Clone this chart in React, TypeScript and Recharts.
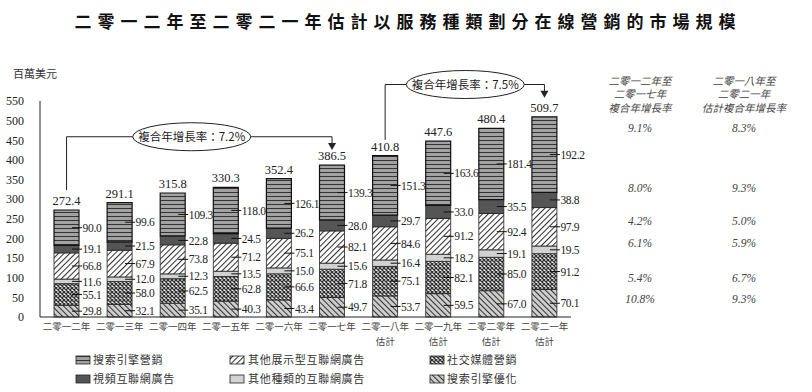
import React from 'react';
import { BarChart, Bar, XAxis, YAxis, LabelList, ReferenceLine, ReferenceDot } from 'recharts';

const categories = ['二零一二年', '二零一三年', '二零一四年', '二零一五年', '二零一六年', '二零一七年', '二零一八年', '二零一九年', '二零二零年', '二零二一年'];
const estimated = [false, false, false, false, false, false, true, true, true, true];
const seo = [29.8, 32.1, 35.1, 40.3, 43.4, 49.7, 53.7, 59.5, 67.0, 70.1];
const social = [55.1, 58.0, 62.5, 62.8, 66.6, 71.8, 75.1, 82.1, 85.0, 91.2];
const otherTypes = [11.6, 12.0, 12.3, 13.5, 15.0, 15.6, 16.4, 18.2, 19.1, 19.5];
const otherDisplay = [66.8, 67.9, 73.8, 71.2, 75.1, 82.1, 84.6, 91.2, 92.4, 97.9];
const video = [19.1, 21.5, 22.8, 24.5, 26.2, 28.0, 29.7, 33.0, 35.5, 38.8];
const sem = [90.0, 99.6, 109.3, 118.0, 126.1, 139.3, 151.3, 163.6, 181.4, 192.2];
const totals = [272.4, 291.1, 315.8, 330.3, 352.4, 386.5, 410.8, 447.6, 480.4, 509.7];
const yTicks = [0, 50, 100, 150, 200, 250, 300, 350, 400, 450, 500, 550];

const seriesNames = ['搜索引擎營銷', '視頻互聯網廣告', '其他展示型互聯網廣告', '其他種類的互聯網廣告', '社交媒體營銷', '搜索引擎優化'];
const cagr1 = ['9.1%', '8.0%', '4.2%', '6.1%', '5.4%', '10.8%'];
const cagr2 = ['8.3%', '9.3%', '5.0%', '5.9%', '6.7%', '9.3%'];
const head1 = ['二零一二年至', '二零一七年', '複合年增長率'];
const head2 = ['二零一八年至', '二零二一年', '估計複合年增長率'];
const title = '二零一二年至二零二一年估計以服務種類劃分在線營銷的市場規模';
const cagrLabels = ['複合年增長率：7.2%', '複合年增長率：7.5%'];

const data = categories.map((c, i) => ({
  name: c,
  seo: seo[i],
  social: social[i],
  otherTypes: otherTypes[i],
  otherDisplay: otherDisplay[i],
  video: video[i],
  sem: sem[i],
  total: totals[i],
}));

const SERIF = '"Liberation Serif", "Noto Sans CJK TC", serif';
const CJK = '"Noto Sans CJK TC", "Liberation Serif", sans-serif';

const SegLabel = (props: any) => {
  const { x, y, width, height, value } = props;
  const cy = Number(y) + Number(height) / 2;
  const r = Number(x) + Number(width);
  return (
    <g>
      <line x1={r - 7} x2={r + 3} y1={cy} y2={cy} stroke="#111" strokeWidth={1} />
      <text x={r + 3.5} y={cy} dy="0.36em" fontSize={11.5} letterSpacing={-0.3} fontFamily={SERIF} fill="#222">
        {Number(value).toFixed(1)}
      </text>
    </g>
  );
};

const TotalLabel = (props: any) => {
  const { x, y, width, value } = props;
  return (
    <text x={Number(x) + Number(width) / 2} y={Number(y) - 5} textAnchor="middle" fontSize={12.5} fontFamily={SERIF} fill="#222">
      {Number(value).toFixed(1)}
    </text>
  );
};

const XTick = (props: any) => {
  const { x, y, payload, index } = props;
  return (
    <g>
      <text x={x} y={y + 1.5} dy="0.36em" textAnchor="middle" fontSize={9.5} fontFamily={CJK} fill="#444">
        {payload.value}
      </text>
      {estimated[index] ? (
        <text x={x} y={y + 16.5} dy="0.36em" textAnchor="middle" fontSize={9.5} fontFamily={CJK} fill="#444">
          估計
        </text>
      ) : null}
    </g>
  );
};

const makeEllipse = (label: string, dx: number) => (props: any) => {
  const { cx, cy } = props;
  return (
    <g>
      <ellipse cx={cx + dx} cy={cy} rx={59} ry={14} fill="#fff" stroke="#222" strokeWidth={1} />
      <text x={cx + dx} y={cy} dy="0.36em" textAnchor="middle" fontSize={11.5} fontFamily={CJK} fill="#222">
        {label}
      </text>
    </g>
  );
};

const Arrow = (props: any) => {
  const { cx, cy } = props;
  return <polygon points={`${cx - 4},${cy - 7} ${cx + 4},${cy - 7} ${cx},${cy}`} fill="#222" />;
};

const fills = ['url(#pSEM)', '#555555', 'url(#pDisp)', '#d2d2d2', 'url(#pSoc)', 'url(#pSEO)'];

export default function App() {
  const legendPos = [
    { x: 76, y: 360 }, { x: 76, y: 379 },
    { x: 230, y: 360 }, { x: 230, y: 379 },
    { x: 430, y: 360 }, { x: 430, y: 379 },
  ];
  const legendTextX = [93, 93, 248, 248, 447, 447];
  const rowsY = [128, 188, 221, 243, 278, 299];
  return (
    <div style={{ position: 'absolute', left: 0, top: 0, width: 812, height: 392, background: '#fff' }}>
      <div style={{ position: 'absolute', left: 0, top: 0 }}>
        <BarChart width={812} height={392} data={data} margin={{ top: 101, right: 241, bottom: 0, left: 0 }} barSize={25}>
          <defs>
            <pattern id="pSEM" patternUnits="userSpaceOnUse" width={4} height={4}>
              <rect width={4} height={4} fill="#a2a2a2" />
              <line x1={0} x2={4} y1={0.5} y2={0.5} stroke="#333" strokeWidth={1} />
            </pattern>
            <pattern id="pDisp" patternUnits="userSpaceOnUse" width={4} height={4} patternTransform="rotate(45)">
              <rect width={4} height={4} fill="#fff" />
              <line x1={0.5} x2={0.5} y1={0} y2={4} stroke="#333" strokeWidth={1.1} />
            </pattern>
            <pattern id="pSEO" patternUnits="userSpaceOnUse" width={4} height={4} patternTransform="rotate(-45)">
              <rect width={4} height={4} fill="#cfcfcf" />
              <line x1={0.5} x2={0.5} y1={0} y2={4} stroke="#333" strokeWidth={1.1} />
            </pattern>
            <pattern id="pSoc" patternUnits="userSpaceOnUse" width={4} height={4}>
              <rect width={4} height={4} fill="#f2f2f2" />
              <path d="M0,0 L4,4 M4,0 L0,4" stroke="#333" strokeWidth={1.3} />
            </pattern>
          </defs>
          <XAxis dataKey="name" interval={0} tickLine={false} axisLine={{ stroke: '#222' }} height={75} tick={<XTick />} />
          <YAxis
            domain={[0, 550]}
            ticks={yTicks}
            width={40}
            tickLine={false}
            axisLine={{ stroke: '#222' }}
            tick={{ fontSize: 12, fontFamily: SERIF, fill: '#222' }}
            tickMargin={10}
            interval={0}
          />
          <Bar dataKey="seo" stackId="a" fill={fills[5]} stroke="#222" strokeWidth={0.8} isAnimationActive={false}>
            <LabelList dataKey="seo" content={<SegLabel />} />
          </Bar>
          <Bar dataKey="social" stackId="a" fill={fills[4]} stroke="#222" strokeWidth={0.8} isAnimationActive={false}>
            <LabelList dataKey="social" content={<SegLabel />} />
          </Bar>
          <Bar dataKey="otherTypes" stackId="a" fill={fills[3]} stroke="#222" strokeWidth={0.8} isAnimationActive={false}>
            <LabelList dataKey="otherTypes" content={<SegLabel />} />
          </Bar>
          <Bar dataKey="otherDisplay" stackId="a" fill={fills[2]} stroke="#222" strokeWidth={0.8} isAnimationActive={false}>
            <LabelList dataKey="otherDisplay" content={<SegLabel />} />
          </Bar>
          <Bar dataKey="video" stackId="a" fill={fills[1]} stroke="#222" strokeWidth={0.8} isAnimationActive={false}>
            <LabelList dataKey="video" content={<SegLabel />} />
          </Bar>
          <Bar dataKey="sem" stackId="a" fill={fills[0]} stroke="#111" strokeWidth={1.2} isAnimationActive={false}>
            <LabelList dataKey="sem" content={<SegLabel />} />
            <LabelList dataKey="total" content={<TotalLabel />} />
          </Bar>
          <ReferenceLine segment={[{ x: categories[0], y: 323 }, { x: categories[0], y: 459 }]} stroke="#222" ifOverflow="visible" />
          <ReferenceLine segment={[{ x: categories[0], y: 459 }, { x: categories[5], y: 459 }]} stroke="#222" ifOverflow="visible" />
          <ReferenceLine segment={[{ x: categories[5], y: 459 }, { x: categories[5], y: 438 }]} stroke="#222" ifOverflow="visible" />
          <ReferenceDot x={categories[5]} y={425} ifOverflow="visible" shape={<Arrow />} />
          <ReferenceDot x={categories[2]} y={459} ifOverflow="visible" shape={makeEllipse(cagrLabels[0], 19)} />
          <ReferenceLine segment={[{ x: categories[6], y: 451 }, { x: categories[6], y: 592 }]} stroke="#222" ifOverflow="visible" />
          <ReferenceLine segment={[{ x: categories[6], y: 592 }, { x: categories[9], y: 592 }]} stroke="#222" ifOverflow="visible" />
          <ReferenceLine segment={[{ x: categories[9], y: 592 }, { x: categories[9], y: 572 }]} stroke="#222" ifOverflow="visible" />
          <ReferenceDot x={categories[9]} y={558} ifOverflow="visible" shape={<Arrow />} />
          <ReferenceDot x={categories[7]} y={592} ifOverflow="visible" shape={makeEllipse(cagrLabels[1], 27)} />
        </BarChart>
      </div>
      <svg width={812} height={392} style={{ position: 'absolute', left: 0, top: 0, pointerEvents: 'none' }}>
        <text x={408} y={22} dy="0.36em" textAnchor="middle" fontSize={17} fontWeight="bold" fontFamily={CJK} letterSpacing={6} fill="#111">
          {title}
        </text>
        <text x={13} y={74} dy="0.36em" fontSize={11} fontFamily={CJK} fill="#333">百萬美元</text>
        {head1.map((t, i) => (
          <text key={'h1' + i} x={640} y={81 + i * 13.5} dy="0.36em" textAnchor="middle" fontSize={10.5} fontStyle="italic" fontFamily={CJK} fill="#444">{t}</text>
        ))}
        {head2.map((t, i) => (
          <text key={'h2' + i} x={744} y={81 + i * 13.5} dy="0.36em" textAnchor="middle" fontSize={10.5} fontStyle="italic" fontFamily={CJK} fill="#444">{t}</text>
        ))}
        {cagr1.map((t, i) => (
          <text key={'c1' + i} x={640} y={rowsY[i]} dy="0.36em" textAnchor="middle" fontSize={11.5} fontStyle="italic" fontFamily={SERIF} fill="#444">{t}</text>
        ))}
        {cagr2.map((t, i) => (
          <text key={'c2' + i} x={744} y={rowsY[i]} dy="0.36em" textAnchor="middle" fontSize={11.5} fontStyle="italic" fontFamily={SERIF} fill="#444">{t}</text>
        ))}
        {seriesNames.map((name, k) => (
          <g key={'lg' + k}>
            <rect x={legendPos[k].x} y={legendPos[k].y - 4} width={14} height={8} fill={fills[k]} stroke="#222" strokeWidth={0.8} />
            <text x={legendTextX[k]} y={legendPos[k].y} dy="0.36em" fontSize={11} fontFamily={CJK} letterSpacing={0.7} fill="#333">{name}</text>
          </g>
        ))}
      </svg>
    </div>
  );
}
